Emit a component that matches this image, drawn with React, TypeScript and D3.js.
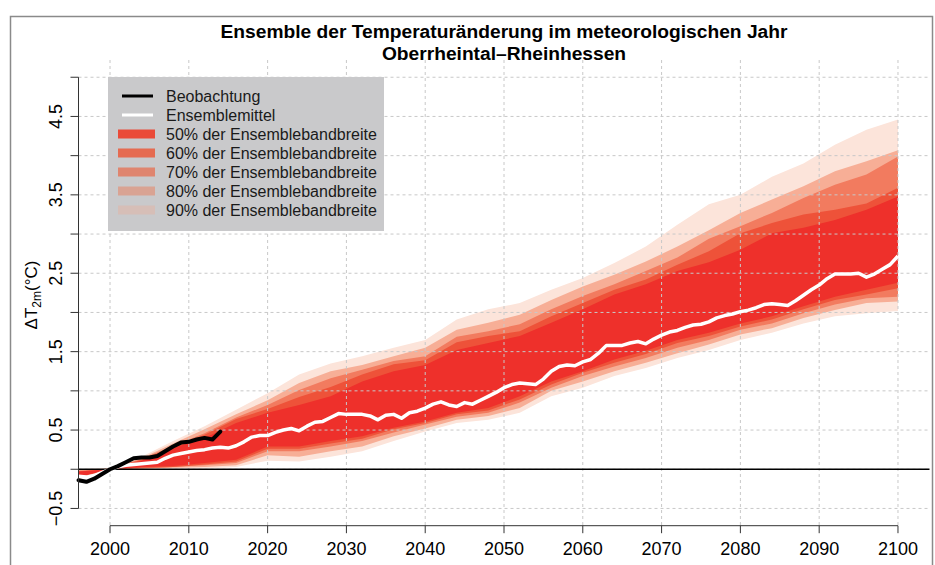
import React from 'react';
import * as d3 from 'd3';

// observed anomaly (Beobachtung), yearly 1996-2014
const obsYears = d3.range(1996, 2015);
const obsValues = [-0.14, -0.16, -0.12, -0.06, 0.0, 0.04, 0.09, 0.14, 0.15, 0.15, 0.17, 0.23, 0.29, 0.34, 0.35, 0.38, 0.40, 0.38, 0.48];

// ensemble mean, yearly 1996-2100
const meanYears = d3.range(1996, 2101);
const meanValues = [
  -0.09, -0.10, -0.08, -0.04, 0.00, 0.03, 0.05, 0.06, 0.07, 0.08,
  0.09, 0.14, 0.18, 0.20, 0.22, 0.24, 0.25, 0.27, 0.28, 0.27,
  0.30, 0.35, 0.41, 0.43, 0.43, 0.47, 0.50, 0.52, 0.49, 0.55,
  0.60, 0.61, 0.66, 0.71, 0.70, 0.70, 0.70, 0.68, 0.63, 0.69,
  0.70, 0.65, 0.72, 0.74, 0.78, 0.83, 0.86, 0.82, 0.80, 0.85,
  0.83, 0.88, 0.93, 0.98, 1.04, 1.08, 1.10, 1.09, 1.08, 1.15,
  1.25, 1.31, 1.33, 1.32, 1.37, 1.40, 1.48, 1.58, 1.58, 1.58,
  1.61, 1.63, 1.60, 1.66, 1.71, 1.75, 1.77, 1.81, 1.84, 1.85,
  1.88, 1.93, 1.96, 1.98, 2.01, 2.03, 2.06, 2.10, 2.11, 2.10,
  2.09, 2.15, 2.22, 2.29, 2.35, 2.43, 2.49, 2.49, 2.49, 2.50,
  2.45, 2.49, 2.55, 2.61, 2.72,
];

// ensemble spread bands
const bandYears = d3.range(1996, 2101, 4);
const upper90 = [0.00, 0.02, 0.16, 0.36, 0.55, 0.76, 0.97, 1.21, 1.35, 1.44, 1.55, 1.65, 1.91, 2.04, 2.12, 2.29, 2.44, 2.63, 2.84, 3.12, 3.38, 3.50, 3.73, 3.90, 4.14, 4.33, 4.46];
const upper80 = [-0.01, 0.01, 0.14, 0.33, 0.51, 0.70, 0.88, 1.10, 1.25, 1.33, 1.44, 1.55, 1.78, 1.87, 1.97, 2.16, 2.33, 2.48, 2.65, 2.84, 3.05, 3.27, 3.44, 3.61, 3.80, 3.93, 4.07];
const upper70 = [-0.02, 0.01, 0.13, 0.30, 0.46, 0.66, 0.82, 1.01, 1.16, 1.27, 1.38, 1.44, 1.69, 1.76, 1.85, 2.04, 2.21, 2.36, 2.53, 2.70, 2.94, 3.10, 3.27, 3.46, 3.63, 3.76, 3.99];
const upper60 = [-0.03, 0.00, 0.12, 0.28, 0.44, 0.64, 0.77, 0.92, 1.05, 1.21, 1.34, 1.39, 1.62, 1.70, 1.76, 1.95, 2.12, 2.29, 2.42, 2.61, 2.78, 3.01, 3.14, 3.25, 3.31, 3.39, 3.59];
const upper50 = [-0.03, 0.00, 0.11, 0.27, 0.40, 0.59, 0.72, 0.82, 0.93, 1.12, 1.25, 1.33, 1.52, 1.61, 1.70, 1.87, 2.04, 2.23, 2.36, 2.53, 2.64, 2.80, 3.01, 3.08, 3.18, 3.31, 3.48];
const lower50 = [-0.10, 0.00, 0.03, 0.04, 0.08, 0.12, 0.29, 0.29, 0.36, 0.42, 0.53, 0.61, 0.72, 0.78, 0.93, 1.12, 1.25, 1.40, 1.51, 1.65, 1.74, 1.86, 1.95, 2.08, 2.20, 2.29, 2.38];
const lower60 = [-0.10, 0.00, 0.02, 0.03, 0.06, 0.10, 0.26, 0.26, 0.33, 0.39, 0.51, 0.59, 0.70, 0.75, 0.89, 1.08, 1.23, 1.36, 1.47, 1.61, 1.70, 1.82, 1.91, 2.04, 2.16, 2.23, 2.31];
const lower70 = [-0.11, 0.00, 0.01, 0.03, 0.05, 0.08, 0.23, 0.23, 0.29, 0.36, 0.47, 0.57, 0.67, 0.72, 0.85, 1.04, 1.19, 1.31, 1.42, 1.55, 1.65, 1.78, 1.86, 1.99, 2.10, 2.18, 2.20];
const lower80 = [-0.12, -0.01, 0.01, 0.02, 0.03, 0.05, 0.18, 0.16, 0.23, 0.29, 0.42, 0.52, 0.63, 0.68, 0.78, 1.00, 1.12, 1.25, 1.36, 1.48, 1.59, 1.72, 1.80, 1.93, 2.03, 2.12, 2.14];
const lower90 = [-0.13, -0.01, 0.00, 0.01, 0.01, 0.03, 0.11, 0.10, 0.16, 0.23, 0.36, 0.48, 0.59, 0.63, 0.72, 0.93, 1.04, 1.19, 1.29, 1.42, 1.52, 1.65, 1.74, 1.86, 1.95, 1.99, 2.02];

const xTicks = d3.range(2000, 2101, 10);
const yTicks = d3.range(-0.5, 5.01, 0.5);
const yLabels = [-0.5, 0.5, 1.5, 2.5, 3.5, 4.5];

const bands = [
  { name: '90% der Ensemblebandbreite', lo: lower90, hi: upper90, fill: '#fce4da', key: '#d6beb7' },
  { name: '80% der Ensemblebandbreite', lo: lower80, hi: upper80, fill: '#f7ae96', key: '#d9a393' },
  { name: '70% der Ensemblebandbreite', lo: lower70, hi: upper70, fill: '#f27b5f', key: '#df856f' },
  { name: '60% der Ensemblebandbreite', lo: lower60, hi: upper60, fill: '#ee5239', key: '#e56b51' },
  { name: '50% der Ensemblebandbreite', lo: lower50, hi: upper50, fill: '#ee302b', key: '#ea4a38' },
];

const font = 'Helvetica, Arial, "Liberation Sans", sans-serif';

export default function App() {
  const x = d3.scaleLinear().domain([1996, 2104]).range([78.5, 929.5]);
  const y = d3.scaleLinear().domain([-0.72, 5.22]).range([525.7, 60]);

  const area = (lo: number[], hi: number[]) =>
    d3.area<number>()
      .x((d) => x(d))
      .y0((d, i) => y(lo[i]))
      .y1((d, i) => y(hi[i]))(bandYears);

  const line = d3.line<number>()
    .x((d) => x(d[0]))
    .y((d) => y(d[1]));

  const meanPath = line(meanYears.map((yr, i) => [yr, meanValues[i]]) as any);
  const obsPath = line(obsYears.map((yr, i) => [yr, obsValues[i]]) as any);

  const left = x(1996);
  const right = x(2104);
  const top = y(5.22);
  const bottom = y(-0.72);

  const legendRows = [
    { label: 'Beobachtung', type: 'line', color: '#000000' },
    { label: 'Ensemblemittel', type: 'line', color: '#ffffff' },
    ...bands.slice().reverse().map((b) => ({ label: b.name, type: 'box', color: b.key })),
  ];

  return (
    <svg width={935} height={565} style={{ position: 'absolute', left: 0, top: 0 }} fontFamily={font}>
      <rect x={0} y={0} width={935} height={565} fill="#ffffff" />
      <rect x={10.5} y={16.5} width={922} height={560} fill="none" stroke="#8a8a8a" strokeWidth={1.5} />

      {/* title */}
      <text x={504} y={38} textAnchor="middle" fontSize={19.2} fontWeight="bold" fill="#000">
        Ensemble der Temperaturänderung im meteorologischen Jahr
      </text>
      <text x={504} y={60} textAnchor="middle" fontSize={19.2} fontWeight="bold" fill="#000">
        Oberrheintal–Rheinhessen
      </text>

      {/* spread bands */}
      {bands.map((b) => (
        <path key={b.name} d={area(b.lo, b.hi) as string} fill={b.fill} stroke="none" />
      ))}

      {/* grid */}
      {yTicks.map((t) => (
        <line key={'gy' + t} x1={left} x2={right} y1={y(t)} y2={y(t)} stroke="#c8c8c8" strokeDasharray="3,3" />
      ))}
      {xTicks.map((t) => (
        <line key={'gx' + t} x1={x(t)} x2={x(t)} y1={top} y2={bottom} stroke="#c8c8c8" strokeDasharray="3,3" />
      ))}

      {/* zero line */}
      <line x1={left} x2={right} y1={y(0)} y2={y(0)} stroke="#000" strokeWidth={1.7} />

      <path d={meanPath as string} fill="none" stroke="#ffffff" strokeWidth={3.5} strokeLinejoin="round" />
      <path d={obsPath as string} fill="none" stroke="#000000" strokeWidth={4} strokeLinejoin="round" strokeLinecap="round" />

      {/* x axis */}
      <line x1={x(2000)} x2={x(2100)} y1={bottom} y2={bottom} stroke="#333" />
      {xTicks.map((t) => (
        <g key={'xt' + t}>
          <line x1={x(t)} x2={x(t)} y1={bottom} y2={bottom + 7.5} stroke="#333" />
          <text x={x(t)} y={555} textAnchor="middle" fontSize={18} fill="#000">{t}</text>
        </g>
      ))}

      {/* y axis */}
      <line x1={left} x2={left} y1={y(-0.5)} y2={y(5)} stroke="#333" />
      {yTicks.map((t) => (
        <line key={'yt' + t} x1={left - 8} x2={left} y1={y(t)} y2={y(t)} stroke="#333" />
      ))}
      {yLabels.map((t) => (
        <text key={'yl' + t} transform={`translate(61.5,${y(t)}) rotate(-90)`} textAnchor="middle" fontSize={18} fill="#000">
          {t < 0 ? '\u2212' + Math.abs(t).toFixed(1) : t.toFixed(1)}
        </text>
      ))}
      <text transform="translate(37,295) rotate(-90)" textAnchor="middle" fontSize={17} fill="#000">
        ΔT<tspan fontSize={12} dy={4}>2m</tspan><tspan dy={-4}>(°C)</tspan>
      </text>

      {/* legend */}
      <rect x={108} y={77} width={276} height={154} fill="#c9c9cb" />
      {legendRows.map((r, i) => {
        const cy = 96 + i * 19;
        return (
          <g key={r.label}>
            {r.type === 'line' ? (
              <line x1={122} x2={153} y1={cy} y2={cy} stroke={r.color} strokeWidth={3} />
            ) : (
              <rect x={118} y={cy - 4.5} width={37} height={9} fill={r.color} />
            )}
            <text x={166} y={cy + 5.5} fontSize={16} fill="#1a1a1a">{r.label}</text>
          </g>
        );
      })}
    </svg>
  );
}
